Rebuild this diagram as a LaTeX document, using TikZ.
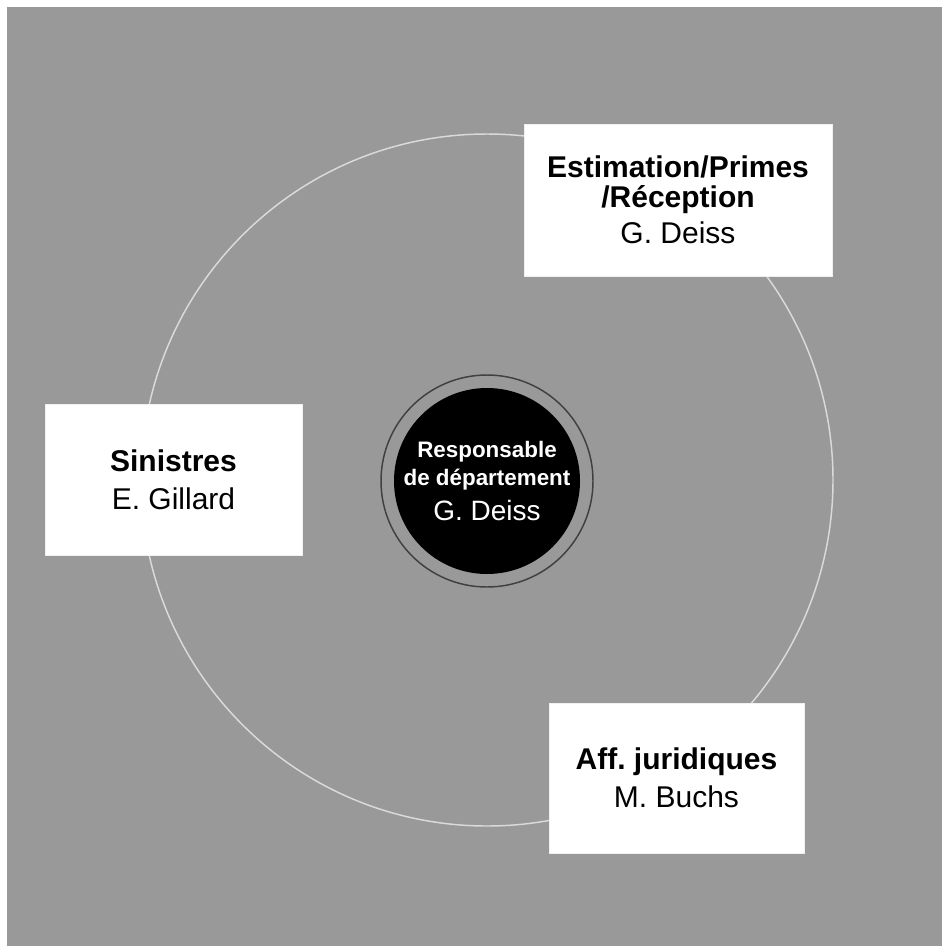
\documentclass[tikz,border=0pt]{standalone}
\usepackage{fontspec}
\setmainfont{Liberation Sans}
\usepackage{xcolor}
\definecolor{fond}{HTML}{999999}
\definecolor{anneau}{HTML}{DADADA}
\frenchspacing

\begin{document}
\begin{tikzpicture}[x=0.75pt,y=-0.75pt,
  poste/.style={fill=white,draw=gray!12,line width=0.6pt,align=center,inner sep=0pt,
    font=\fontsize{22.5}{22.5}\selectfont},
  chef/.style={circle,fill=black,text=white,minimum size=139.5pt,inner sep=0pt,align=center,
    font=\fontsize{16.8}{21}\selectfont}]
\useasboundingbox (0,0) rectangle (942,946);
\fill[white] (0,0) rectangle (942,946);
\fill[fond] (7,7) rectangle (942,946);

% grand cercle
\draw[anneau,line width=1.1pt] (487,480) circle (259.5pt);

% centre
\node[chef] (resp) at (487,481) {\textbf{Responsable}\\\textbf{de département}\\[5.25pt]{\fontsize{21}{21}\selectfont G. Deiss}};
\draw[black!75,line width=1.1pt] (resp.center) circle (79.5pt);

% services
\node[poste,minimum width=231pt,minimum height=114pt] (estim) at (678,200) {\textbf{Estimation/Primes}\\\textbf{/Réception}\\[4.5pt]G. Deiss};
\node[poste,minimum width=192.75pt,minimum height=113.25pt] (sinistres) at (173.5,479.5) {\textbf{Sinistres}\\[6pt]E. Gillard};
\node[poste,minimum width=191.25pt,minimum height=112.5pt] (juridique) at (676.5,778) {\textbf{Aff. juridiques}\\[6pt]M. Buchs};
\end{tikzpicture}
\end{document}
